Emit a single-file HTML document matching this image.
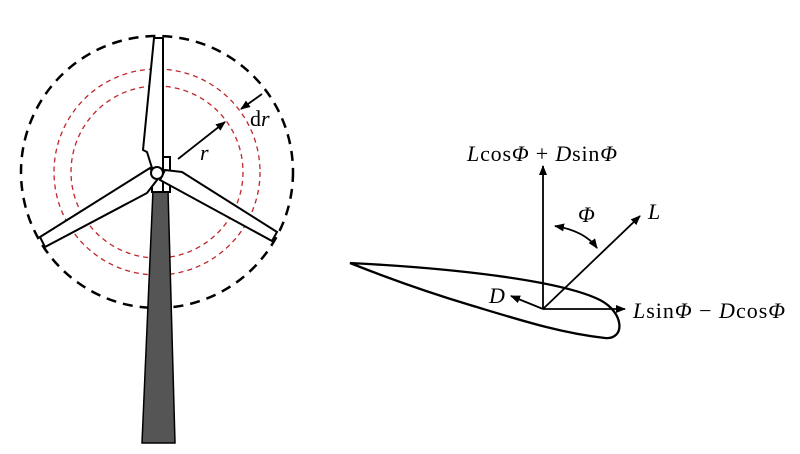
<!DOCTYPE html>
<html><head><style>body{margin:0;background:#fff}svg{display:block}text{font-family:"Liberation Serif",serif;font-size:22px}</style></head>
<body>
<svg width="800" height="454" viewBox="0 0 800 454">
<defs><marker id="a" markerWidth="10" markerHeight="8" refX="9" refY="4" orient="auto" markerUnits="userSpaceOnUse"><path d="M0,0 L10,4 L0,8 Z" fill="#000"/></marker>
<marker id="b" markerWidth="10" markerHeight="8" refX="1" refY="4" orient="auto" markerUnits="userSpaceOnUse"><path d="M10,0 L0,4 L10,8 Z" fill="#000"/></marker></defs>
<circle cx="157" cy="172" r="136" fill="none" stroke="#000" stroke-width="2.5" stroke-dasharray="10,7"/>
<circle cx="157" cy="172" r="103" fill="none" stroke="#c0262a" stroke-width="1.3" stroke-dasharray="5,4"/>
<circle cx="157" cy="172" r="86" fill="none" stroke="#c0262a" stroke-width="1.3" stroke-dasharray="5,4"/>
<polygon points="153,190 168,190 175,443 142,443" fill="#555" stroke="#000" stroke-width="1.5"/>
<rect x="152" y="178" width="17" height="14" fill="#fff" stroke="#000" stroke-width="2"/>
<rect x="163" y="157" width="7" height="35" fill="#fff" stroke="#000" stroke-width="2"/>
<polygon points="154,38 163,38 163,170 152,168 147,152 143,150" fill="#fff" stroke="#000" stroke-width="2" stroke-linejoin="round"/>
<polygon points="150,168 40,237 45,247 147,193 157,180" fill="#fff" stroke="#000" stroke-width="2"/>
<polygon points="165,170 182,172 277,232 272,241 160,180" fill="#fff" stroke="#000" stroke-width="2"/>
<circle cx="157" cy="173" r="6" fill="#fff" stroke="#000" stroke-width="2"/>
<line x1="178" y1="159" x2="225" y2="122" stroke="#000" stroke-width="1.8" marker-end="url(#a)"/>
<line x1="262" y1="94" x2="241" y2="109" stroke="#000" stroke-width="1.8" marker-end="url(#a)"/>
<text x="250" y="126">d<tspan font-style="italic">r</tspan></text>
<text x="200" y="160" font-style="italic">r</text>
<path d="M350,263 C450,268 560,280 600,300 C625,313 625,340 605,338 C560,333 520,320 470,305 C420,290 380,275 350,263 Z" fill="none" stroke="#000" stroke-width="2.3"/>
<line x1="543" y1="309" x2="543" y2="166" stroke="#000" stroke-width="1.8" marker-end="url(#a)"/>
<line x1="543" y1="309" x2="625" y2="309" stroke="#000" stroke-width="1.8" marker-end="url(#a)"/>
<line x1="543" y1="309" x2="640" y2="216" stroke="#000" stroke-width="1.8" marker-end="url(#a)"/>
<line x1="543" y1="309" x2="511" y2="296" stroke="#000" stroke-width="1.8" marker-end="url(#a)"/>
<path d="M555,226 Q585,231 597,248" fill="none" stroke="#000" stroke-width="1.8" marker-end="url(#a)" marker-start="url(#b)"/>
<text x="467" y="161" textLength="150"><tspan font-style="italic">L</tspan>cos<tspan font-style="italic">Φ</tspan> + <tspan font-style="italic">D</tspan>sin<tspan font-style="italic">Φ</tspan></text>
<text x="633" y="318" textLength="152"><tspan font-style="italic">L</tspan>sin<tspan font-style="italic">Φ</tspan> − <tspan font-style="italic">D</tspan>cos<tspan font-style="italic">Φ</tspan></text>
<text x="648" y="219" font-style="italic">L</text>
<text x="578" y="222" font-style="italic">Φ</text>
<text x="489" y="303" font-style="italic">D</text>
</svg>
</body></html>
